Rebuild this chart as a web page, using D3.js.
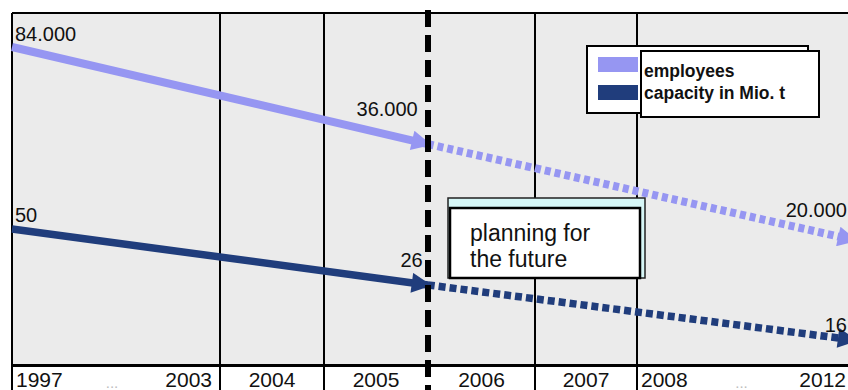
<!DOCTYPE html>
<html>
<head>
<meta charset="utf-8">
<script src="https://cdn.jsdelivr.net/npm/d3@7"></script>
<style>
  html, body { margin: 0; padding: 0; background: #fff; overflow: hidden; }
  svg { display: block; font-family: "Liberation Sans", Arial, sans-serif; }
</style>
</head>
<body>
<svg id="chart" width="848" height="390"></svg>
<script>
// Year columns along the bottom (boundaries are Jan 1 of each year)
const columnBounds = [1997, 2004, 2005, 2006, 2007, 2008, 2013];
const tickLabels = [["1997", "2003"], ["2004"], ["2005"], ["2006"], ["2007"], ["2008", "2012"]];

// Milestones: start of 1997, end of 2005, end of 2012
const milestoneDates = ["1997-01-01", "2005-12-31", "2012-12-31"];
const employees = [84000, 36000, 20000];
const capacity = [50, 26, 16];
const seriesNames = ["employees", "capacity in Mio. t"];
const planStartYear = 2006;
const noteLines = ["planning for", "the future"];

const W = 848, H = 390;
const plotLeft = 12, plotTop = 13, axisY = 365.5;
const colEdges = [12, 220, 324, 428, 535, 637, 854];

const colors = { employees: "#9696f2", capacity: "#203d7c" };

const svg = d3.select("#chart");
const parseDate = d3.timeParse("%Y-%m-%d");
const fmt = d3.formatLocale({ decimal: ",", thousands: ".", grouping: [3], currency: ["", ""] }).format(",d");

const x = d3.scaleTime()
  .domain(columnBounds.map(y => new Date(y, 0, 1)))
  .range(colEdges);

// Each series has its own compressed value scale
const yEmp = d3.scalePow().exponent(-0.5)
  .domain([d3.max(employees), d3.min(employees)])
  .range([47, 240]);
const yCap = d3.scalePow().exponent(-0.5)
  .domain([d3.max(capacity), d3.min(capacity)])
  .range([229, 340]);

// Background: plot area grey, label band white
svg.append("rect").attr("x", 0).attr("y", 0).attr("width", W).attr("height", H).attr("fill", "#fff");
svg.append("rect").attr("x", plotLeft).attr("y", plotTop)
  .attr("width", W - plotLeft).attr("height", axisY - plotTop).attr("fill", "#ebebeb");

// Column separators
const innerBounds = columnBounds.slice(0, -1);
svg.append("g").selectAll("line")
  .data(innerBounds.filter(b => b !== planStartYear))
  .join("line")
  .attr("x1", d => x(new Date(d, 0, 1))).attr("x2", d => x(new Date(d, 0, 1)))
  .attr("y1", plotTop).attr("y2", H)
  .attr("stroke", "#000").attr("stroke-width", 2);

// Frame: top and axis line
svg.append("line").attr("x1", plotLeft).attr("x2", W).attr("y1", plotTop).attr("y2", plotTop)
  .attr("stroke", "#000").attr("stroke-width", 2);
svg.append("line").attr("x1", plotLeft - 1).attr("x2", W).attr("y1", axisY).attr("y2", axisY)
  .attr("stroke", "#000").attr("stroke-width", 3);

// Tick labels
const cols = tickLabels.map((lab, i) => ({
  lab, x0: x(new Date(columnBounds[i], 0, 1)), x1: x(new Date(columnBounds[i + 1], 0, 1))
}));
const tickG = svg.append("g").attr("font-size", 21).attr("fill", "#111");
cols.forEach(c => {
  if (c.lab.length === 1) {
    tickG.append("text").attr("x", (c.x0 + c.x1) / 2).attr("y", 387)
      .attr("text-anchor", "middle").text(c.lab[0]);
  } else {
    tickG.append("text").attr("x", c.x0 + 4).attr("y", 387).text(c.lab[0]);
    tickG.append("text").attr("x", c.x1 - 8).attr("y", 387).attr("text-anchor", "end").text(c.lab[1]);
    tickG.append("text").attr("x", (c.x0 + c.x1) / 2 - 4).attr("y", 388).attr("text-anchor", "middle")
      .attr("font-size", 15).attr("fill", "#bdbdbd").text("...");
  }
});

// Arrow markers
const defs = svg.append("defs");
Object.entries(colors).forEach(([k, c]) => {
  defs.append("marker").attr("id", "arrow-" + k)
    .attr("viewBox", "0 -5 10 10").attr("refX", 8).attr("refY", 0)
    .attr("markerUnits", "userSpaceOnUse")
    .attr("markerWidth", 22).attr("markerHeight", 20)
    .attr("orient", "auto")
    .append("path").attr("d", "M0,-5L10,0L0,5Z").attr("fill", c);
});

// Series
const series = [
  { key: "employees", values: employees, y: yEmp, width: 8, dash: "6,4",
    labelPos: [{ a: "start", dx: 3, dy: -6 }, { a: "end", dx: -10, dy: -28 }, { a: "end", dx: -7, dy: -23 }] },
  { key: "capacity", values: capacity, y: yCap, width: 7.5, dash: "7,4",
    labelPos: [{ a: "start", dx: 3, dy: -7 }, { a: "end", dx: -5, dy: -18 }, { a: "end", dx: -7, dy: -8 }] }
];

const line = d3.line().x(d => d.x).y(d => d.y);

series.forEach(s => {
  const pts = s.values.map((v, i) => ({ x: x(parseDate(milestoneDates[i])), y: s.y(v), v }));
  const g = svg.append("g");
  // history: solid
  g.append("path").attr("d", line(pts.slice(0, 2)))
    .attr("fill", "none").attr("stroke", colors[s.key]).attr("stroke-width", s.width)
    .attr("marker-end", `url(#arrow-${s.key})`);
  // plan: dashed
  g.append("path").attr("d", line(pts.slice(1)))
    .attr("fill", "none").attr("stroke", colors[s.key]).attr("stroke-width", s.width)
    .attr("stroke-dasharray", s.dash)
    .attr("marker-end", `url(#arrow-${s.key})`);
  // value labels
  g.selectAll("text").data(pts).join("text")
    .attr("x", (d, i) => d.x + s.labelPos[i].dx)
    .attr("y", (d, i) => d.y + s.labelPos[i].dy)
    .attr("text-anchor", (d, i) => s.labelPos[i].a)
    .attr("font-size", 20).attr("fill", "#111")
    .text(d => fmt(d.v));
});

// Boundary between history and planning
const xPlan = x(new Date(planStartYear, 0, 1));
svg.append("line").attr("x1", xPlan).attr("x2", xPlan).attr("y1", 10).attr("y2", H)
  .attr("stroke", "#000").attr("stroke-width", 6).attr("stroke-dasharray", "17,8");

// Note box
const note = svg.append("g");
note.append("rect").attr("x", 448).attr("y", 198).attr("width", 197).attr("height", 80)
  .attr("fill", "#d6f6f6").attr("stroke", "#222").attr("stroke-width", 1.5);
note.append("rect").attr("x", 450).attr("y", 208).attr("width", 190).attr("height", 70)
  .attr("fill", "#fff").attr("stroke", "#000").attr("stroke-width", 2.5);
note.selectAll("text").data(noteLines).join("text")
  .attr("x", 470).attr("y", (d, i) => 241 + i * 26)
  .attr("font-size", 23).attr("fill", "#111").text(d => d);

// Legend
const leg = svg.append("g");
leg.append("rect").attr("x", 587).attr("y", 46).attr("width", 221).attr("height", 67)
  .attr("fill", "#fff").attr("stroke", "#000").attr("stroke-width", 2);
leg.append("rect").attr("x", 641).attr("y", 51).attr("width", 178).attr("height", 66)
  .attr("fill", "#fff").attr("stroke", "#000").attr("stroke-width", 2);
const legKeys = ["employees", "capacity"];
legKeys.forEach((k, i) => {
  leg.append("rect").attr("x", 598).attr("y", 57 + i * 28).attr("width", 40).attr("height", 15)
    .attr("fill", colors[k]);
  leg.append("text").attr("x", 644).attr("y", 77 + i * 22)
    .attr("font-size", 17.5).attr("font-weight", "bold").attr("fill", "#111")
    .text(seriesNames[i]);
});
</script>
</body>
</html>
